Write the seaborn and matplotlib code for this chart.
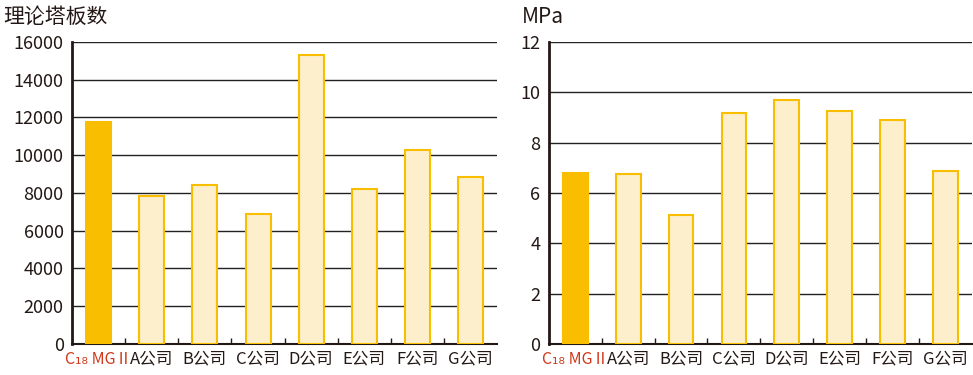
import numpy as np
import pandas as pd
import seaborn as sns
import matplotlib.pyplot as plt
from matplotlib.ticker import FixedLocator

sns.set_style("white")
plt.rcParams['font.family'] = ['Noto Sans CJK SC', 'DejaVu Sans']

# Data
categories = ['C₁₈ MGⅡ', 'A公司', 'B公司', 'C公司', 'D公司', 'E公司', 'F公司', 'G公司']
plates = [11750, 7850, 8400, 6900, 15300, 8200, 10300, 8850]
pressure = [6.8, 6.75, 5.13, 9.18, 9.7, 9.26, 8.9, 6.87]

highlight = '#F9BE00'
light = '#FDEFCB'
colors = [highlight] + [light] * 7

fig = plt.figure(figsize=(9.73, 3.75), dpi=100)
ax1 = fig.add_axes([0.074, 0.083, 0.437, 0.805])
ax2 = fig.add_axes([0.564, 0.083, 0.435, 0.805])


def draw(ax, vals, ymax, step, ylabel, xlab):
    df = pd.DataFrame({'cat': categories, 'val': vals})
    sns.barplot(data=df, x='cat', y='val', hue='cat', palette=colors,
                saturation=1, legend=False, width=0.47, ax=ax, zorder=3)
    for p in ax.patches:
        p.set_edgecolor(highlight)
        p.set_linewidth(1.5)
    ax.set_ylim(0, ymax)
    ax.set_xlim(-0.5, 7.5)
    ax.set_yticks(np.arange(0, ymax + step, step))
    ax.grid(axis='y', color='#222222', linewidth=1, zorder=0)
    ax.set_axisbelow(True)
    for s in ['top', 'right']:
        ax.spines[s].set_visible(False)
    ax.spines['left'].set_linewidth(2)
    ax.spines['left'].set_color('#231815')
    ax.spines['bottom'].set_linewidth(1.5)
    ax.spines['bottom'].set_color('#231815')
    ax.set_xlabel('')
    ax.set_ylabel('')
    ax.tick_params(axis='y', labelsize=13, length=0, pad=6, labelcolor='#231815')
    ax.tick_params(axis='x', labelsize=12, length=0, pad=5, labelcolor='#231815')
    ax.xaxis.set_minor_locator(FixedLocator(np.arange(0.5, 7.5, 1)))
    ax.tick_params(axis='x', which='minor', direction='in', length=4,
                   width=1, color='#231815', bottom=True)
    first = ax.get_xticklabels()[0]
    first.set_color('#D0391C')
    first.set_family(['Liberation Sans Narrow', 'Noto Sans CJK SC', 'DejaVu Sans'])
    first.set_fontsize(11.5)
    fig.text(xlab, 0.925, ylabel, fontsize=15, color='#231815', va='bottom')


draw(ax1, plates, 16000, 2000, '理论塔板数', 0.003)
draw(ax2, pressure, 12, 2, 'MPa', 0.536)

fig.savefig('out.png', dpi=100)
